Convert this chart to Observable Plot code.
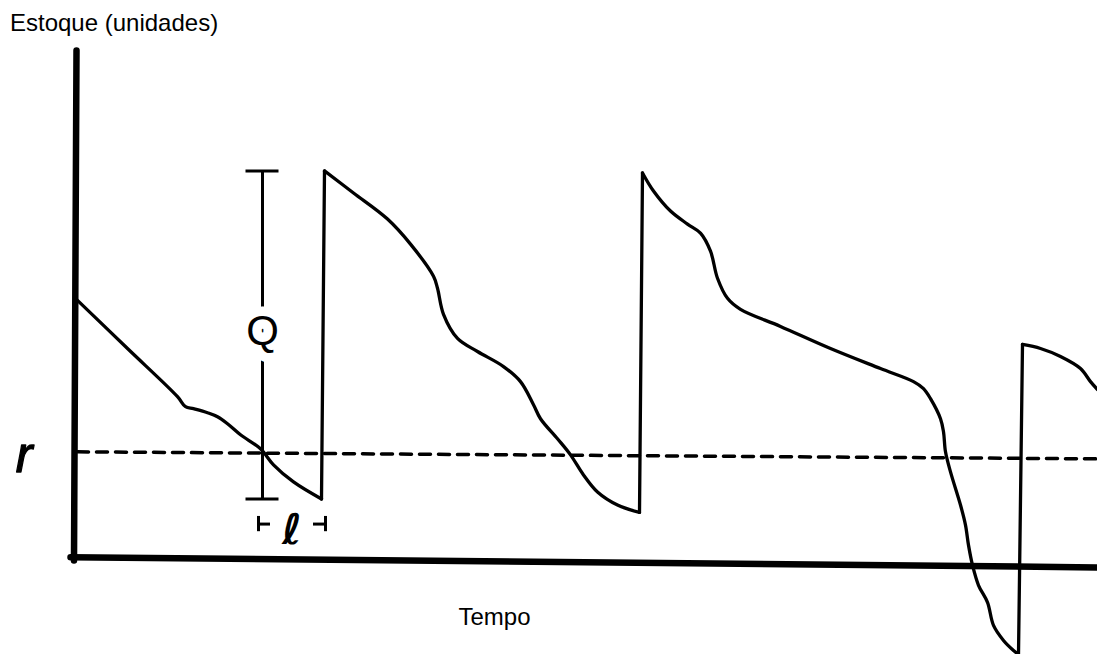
<!DOCTYPE html>
<html><head><meta charset="utf-8">
<script src="https://cdn.jsdelivr.net/npm/d3@7"></script>
<script src="https://cdn.jsdelivr.net/npm/@observablehq/plot@0.6"></script>
<style>
html,body{margin:0;padding:0;background:#fff;}
#title{height:42px;box-sizing:border-box;padding:11px 0 0 10px;font:24px/23px "Liberation Sans",Arial,sans-serif;color:#000;}
#chart svg{display:block;}
</style></head><body>
<div id="title">Estoque (unidades)</div>
<div id="chart"></div>
<script>
// Ciclos de estoque (tempo, estoque)
const tempoCiclo1 = [0.3, 5.3, 10.3, 11.1, 11.9, 13.3, 14.3, 15.3, 16.6, 18.6, 19.9, 21.9, 24.7];
const estoqueCiclo1 = [65.25, 53.25, 41.25, 38.75, 38.25, 37.25, 36.25, 34.5, 31.75, 28.25, 24.25, 20, 15.75];
const tempoCiclo2 = [25.0, 27.9, 31.3, 33.6, 35.9, 36.3, 36.9, 38.3, 40.3, 42.9, 44.6, 45.9, 46.6, 48.3, 49.6, 50.9, 52.3, 54.3, 56.5];
const estoqueCiclo2 = [97.5, 92, 85.5, 79.25, 71.25, 68.25, 61.75, 55.75, 52.5, 48.75, 45, 39.25, 35.75, 30.75, 26.75, 21.75, 17.5, 14.25, 12.4];
const tempoCiclo3 = [56.8, 57.9, 59.6, 61.3, 62.6, 63.6, 64.3, 65.3, 66.6, 70.6, 75.6, 80.6, 83.9, 84.9, 85.6, 86.6, 86.9, 87.1, 87.6, 88.6, 89.1, 89.4, 89.8, 90.4, 91.3, 91.9, 92.9, 93.9, 94.4];
const estoqueCiclo3 = [97, 92.5, 87.5, 84.25, 82, 77.5, 70.75, 65.75, 63, 58.75, 53.25, 48.25, 45, 43.25, 40.75, 35.75, 32.5, 27.5, 22.5, 14.25, 9.25, 4.25, -0.75, -5.75, -10, -15.75, -19.5, -22, -23];
const tempoCiclo4 = [94.8, 96.6, 98.6, 100.6, 101.6, 102.3];
const estoqueCiclo4 = [54.25, 53.25, 51.25, 48.25, 45, 43];

// Ponto de pedido r (linha tracejada)
const tempoR = [0.3, 102.3];
const nivelR = [27.5, 25.75];

// Eixos
const eixoXTempo = [-0.4, 102.3];
const eixoXNivel = [1.25, -1.3];
const eixoYTempo = [-0.05, 0.2];
const eixoYNivel = [0.4, 127.5];

// Anotações
const tempoPedido = 18.8;          // onde se marca Q
const leadTime = [18.4, 25.1];     // intervalo ℓ
const nivelLead = 9.5;

const ciclosT = [tempoCiclo1, tempoCiclo2, tempoCiclo3, tempoCiclo4];
const ciclosE = [estoqueCiclo1, estoqueCiclo2, estoqueCiclo3, estoqueCiclo4];
const curva = ciclosT.flatMap((ts, k) => ts.map((t, i) => ({t, e: ciclosE[k][i], ciclo: k + 1})));
const saltos = ciclosT.slice(1).map((ts, k) => ({
  t1: ciclosT[k][ciclosT[k].length - 1], e1: ciclosE[k][ciclosE[k].length - 1],
  t2: ts[0], e2: ciclosE[k + 1][0]
}));
const rLinha = tempoR.map((t, i) => ({t, e: nivelR[i]}));
const eixoX = eixoXTempo.map((t, i) => ({t, e: eixoXNivel[i]}));
const eixoY = eixoYTempo.map((t, i) => ({t, e: eixoYNivel[i]}));
const Q = {t: tempoPedido, base: estoqueCiclo1[estoqueCiclo1.length - 1], topo: estoqueCiclo2[0]};
Q.meio = (Q.base + Q.topo) / 2;
const L = {t1: leadTime[0], t2: leadTime[1], e: nivelLead, meio: (leadTime[0] + leadTime[1]) / 2};

const font = '"Liberation Sans", Arial, sans-serif';
const plot = Plot.plot({
  width: 1097, height: 612,
  marginTop: 0, marginRight: 0, marginBottom: 0, marginLeft: 0,
  x: {domain: [-7.4, 102.3], axis: null},
  y: {domain: [-23, 129.5], axis: null},
  marks: [
    Plot.line(eixoX, {x: "t", y: "e", stroke: "black", strokeWidth: 6.5}),
    Plot.line(eixoY, {x: "t", y: "e", stroke: "black", strokeWidth: 6.5}),
    Plot.line(rLinha, {x: "t", y: "e", stroke: "black", strokeWidth: 3.5, strokeDasharray: "11,8"}),
    Plot.line(curva, {x: "t", y: "e", z: "ciclo", curve: "catmull-rom", stroke: "black", strokeWidth: 3.3, strokeLinecap: "round", strokeLinejoin: "round"}),
    Plot.link(saltos, {x1: "t1", y1: "e1", x2: "t2", y2: "e2", stroke: "black", strokeWidth: 3.3, strokeLinecap: "round"}),
    // Q bracket
    Plot.ruleX([Q], {x: "t", y1: "base", y2: "topo", stroke: "black", strokeWidth: 3}),
    Plot.ruleY([Q.base, Q.topo], {y: d => d, x1: Q.t - 1.65, x2: Q.t + 1.65, stroke: "black", strokeWidth: 3}),
    Plot.text([Q], {x: "t", y: "meio", dy: -3, text: () => "Q", fontSize: 42, fontFamily: font, fill: "black", stroke: "white", strokeWidth: 19}),
    // ℓ bracket
    Plot.ruleX([L.t1, L.t2], {x: d => d, y1: L.e - 1.9, y2: L.e + 1.9, stroke: "black", strokeWidth: 3}),
    Plot.ruleY([L], {y: "e", x1: "t1", x2: d => d.t1 + 1.2, stroke: "black", strokeWidth: 3}),
    Plot.ruleY([L], {y: "e", x1: d => d.t2 - 1.2, x2: "t2", stroke: "black", strokeWidth: 3}),
    Plot.text([L], {x: "meio", y: "e", dy: 6, text: () => "ℓ", fontSize: 42, fontWeight: "bold", fontFamily: "DejaVu Sans", fill: "black"}),
    // r label
    Plot.text([rLinha[0]], {x: 0, y: "e", dx: -50.5, dy: 4, text: () => "r", fontSize: 50, fontStyle: "italic", fontFamily: font, fill: "black", stroke: "black", strokeWidth: 1.3}),
    // x label
    Plot.text(["Tempo"], {frameAnchor: "bottom", lineAnchor: "middle", dx: -54.5, dy: -37.4, text: d => d, fontSize: 24, fontFamily: font, fill: "black"})
  ]
});
document.getElementById("chart").appendChild(plot);
</script>
</body></html>
